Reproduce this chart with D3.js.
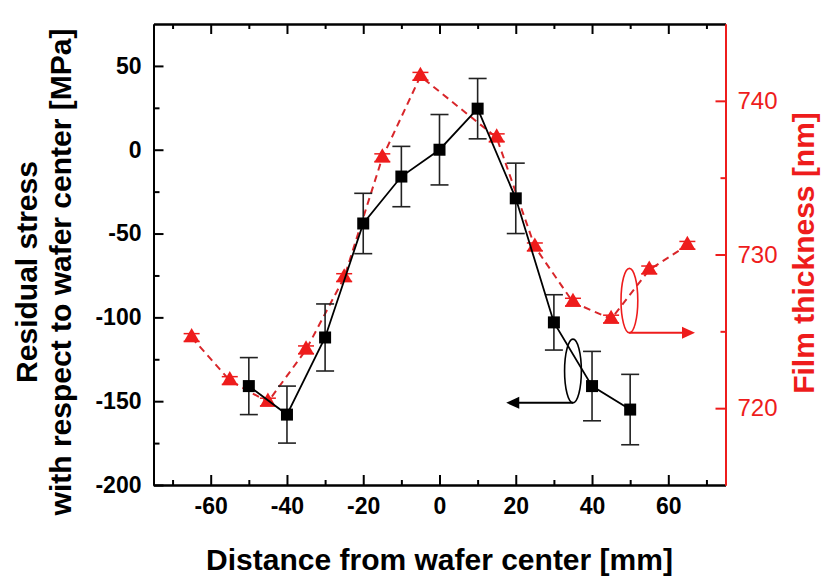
<!DOCTYPE html>
<html><head><meta charset="utf-8">
<script src="https://cdn.jsdelivr.net/npm/d3@7"></script>
<style>body{margin:0;background:#fff} svg{display:block;font-family:"Liberation Sans",Arial,sans-serif}</style>
</head><body><svg id="c" width="821" height="577"></svg>
<script>
// ---- data ----
const stressX   = [-50, -40, -30, -20, -10, 0, 10, 20, 30, 40, 50];
const stressY   = [-141, -158, -112, -44, -16, 0, 24.5, -29, -103, -141, -155];
const stressErr = [17, 17, 20, 18, 18, 21, 18, 21, 16.5, 20.7, 21];
const thickX    = [-65, -55, -45, -35, -25, -15, -5, 15, 25, 35, 45, 55, 65];
const thickY    = [724.6, 721.8, 720.4, 723.8, 728.5, 736.3, 741.6, 737.6, 730.5, 726.9, 725.8, 729.0, 730.6];
const thickErr  = [0.25, 0.25, 0.25, 0.25, 0.25, 0.25, 0.25, 0.25, 0.25, 0.25, 0.25, 0.25, 0.25];
const xTicks      = [-60, -40, -20, 0, 20, 40, 60];
const xMinor      = [-70, -50, -30, -10, 10, 30, 50, 70];
const yLeftTicks  = [-200, -150, -100, -50, 0, 50];
const yLeftMinor  = [-175, -125, -75, -25, 25];
const yRightTicks = [720, 730, 740];
const yRightMinor = [725, 735];
// annotation anchors (data units)
const stressEllipse = {x: 35, y: -132, rx: 2.2, ry: 19};
const stressArrowEnd = 17.5;
const thickEllipse = {x: 49.8, y: 727.0, rx: 2.2, ry: 2.1};
const thickArrowEnd = 67;

const svg = d3.select("#c");
const L = 153.5, R = 725.5, T = 24, B = 485;
const x = d3.scaleLinear().domain([-75, 75]).range([L, R]);
const yL = d3.scaleLinear().domain([-200, 75]).range([B, T]);
const yR = d3.scaleLinear().domain([715, 745]).range([B, T]);
const red = "#ee1c1c";
const fmt = d => String(d);

function styleAxis(g, color, bold, fs) {
  g.select(".domain").attr("stroke", color).attr("stroke-width", 2);
  g.selectAll(".tick line").attr("stroke", color).attr("stroke-width", 2);
  g.selectAll(".tick text").attr("fill", color).style("font-size", fs + "px")
    .style("font-weight", bold ? "bold" : "normal").style("font-family", '"Liberation Sans", Arial, sans-serif');
}

// bottom
const gB = svg.append("g").attr("transform", `translate(0,${B})`)
  .call(d3.axisBottom(x).tickValues(xTicks).tickSizeInner(-10).tickSizeOuter(0).tickPadding(13).tickFormat(fmt));
styleAxis(gB, "#000", true, 23);
const gBm = svg.append("g").attr("transform", `translate(0,${B})`)
  .call(d3.axisBottom(x).tickValues(xMinor).tickSizeInner(-5).tickSizeOuter(0).tickFormat(""));
styleAxis(gBm, "#000", true, 23);
// top
const gT = svg.append("g").attr("transform", `translate(0,${T})`)
  .call(d3.axisTop(x).tickValues(xTicks).tickSizeInner(-10).tickSizeOuter(0).tickFormat(""));
styleAxis(gT, "#000", true, 23);
const gTm = svg.append("g").attr("transform", `translate(0,${T})`)
  .call(d3.axisTop(x).tickValues(xMinor).tickSizeInner(-5).tickSizeOuter(0).tickFormat(""));
styleAxis(gTm, "#000", true, 23);
// left
const gL = svg.append("g").attr("transform", `translate(${L},0)`)
  .call(d3.axisLeft(yL).tickValues(yLeftTicks).tickSizeInner(-10).tickSizeOuter(0).tickPadding(12).tickFormat(fmt));
styleAxis(gL, "#000", true, 23);
const gLm = svg.append("g").attr("transform", `translate(${L},0)`)
  .call(d3.axisLeft(yL).tickValues(yLeftMinor).tickSizeInner(-6).tickSizeOuter(0).tickFormat(""));
styleAxis(gLm, "#000", true, 23);
// right
const gR = svg.append("g").attr("transform", `translate(${R},0)`)
  .call(d3.axisRight(yR).tickValues(yRightTicks).tickSizeInner(-10).tickSizeOuter(0).tickPadding(12).tickFormat(fmt));
styleAxis(gR, red, false, 24);
const gRm = svg.append("g").attr("transform", `translate(${R},0)`)
  .call(d3.axisRight(yR).tickValues(yRightMinor).tickSizeInner(-5).tickSizeOuter(0).tickFormat(""));
styleAxis(gRm, red, false, 24);

// titles
const tf = '"Liberation Sans", Arial, sans-serif';
svg.append("text").attr("x", (L + R) / 2).attr("y", 570).attr("text-anchor", "middle")
  .style("font-family", tf).style("font-weight", "bold").style("font-size", "30px").text("Distance from wafer center [mm]");
svg.append("text").attr("transform", "translate(37,272) rotate(-90)").attr("text-anchor", "middle")
  .style("font-family", tf).style("font-weight", "bold").style("font-size", "30px").text("Residual stress");
svg.append("text").attr("transform", "translate(71,272) rotate(-90)").attr("text-anchor", "middle")
  .style("font-family", tf).style("font-weight", "bold").style("font-size", "30px").text("with respect to wafer center [MPa]");
svg.append("text").attr("transform", "translate(814,253) rotate(-90)").attr("text-anchor", "middle").attr("fill", red)
  .style("font-family", tf).style("font-weight", "bold").style("font-size", "30px").text("Film thickness [nm]");

// thickness series
const tData = thickX.map((d, i) => ({x: d, y: thickY[i], e: thickErr[i]}));
svg.append("path").datum(tData).attr("fill", "none").attr("stroke", "#d8262a").attr("stroke-width", 2)
  .attr("stroke-dasharray", "7,5")
  .attr("d", d3.line().x(d => x(d.x)).y(d => yR(d.y)));
const te = svg.append("g").attr("stroke", red).attr("stroke-width", 1.5);
tData.forEach(d => {
  te.append("line").attr("x1", x(d.x)).attr("x2", x(d.x)).attr("y1", yR(d.y - d.e)).attr("y2", yR(d.y + d.e));
  [d.y - d.e, d.y + d.e].forEach(v => te.append("line").attr("x1", x(d.x) - 8).attr("x2", x(d.x) + 8).attr("y1", yR(v)).attr("y2", yR(v)));
});
svg.append("g").selectAll("path").data(tData).join("path")
  .attr("transform", d => `translate(${x(d.x)},${yR(d.y)})`)
  .attr("d", d3.symbol(d3.symbolTriangle, 115)).attr("fill", red);

// stress series
const sData = stressX.map((d, i) => ({x: d, y: stressY[i], e: stressErr[i]}));
const se = svg.append("g").attr("stroke", "#222").attr("stroke-width", 1.6);
sData.forEach(d => {
  se.append("line").attr("x1", x(d.x)).attr("x2", x(d.x)).attr("y1", yL(d.y - d.e)).attr("y2", yL(d.y + d.e));
  [d.y - d.e, d.y + d.e].forEach(v => se.append("line").attr("x1", x(d.x) - 9).attr("x2", x(d.x) + 9).attr("y1", yL(v)).attr("y2", yL(v)));
});
svg.append("path").datum(sData).attr("fill", "none").attr("stroke", "#000").attr("stroke-width", 1.8)
  .attr("d", d3.line().x(d => x(d.x)).y(d => yL(d.y)));
svg.append("g").selectAll("rect").data(sData).join("rect")
  .attr("x", d => x(d.x) - 6).attr("y", d => yL(d.y) - 6).attr("width", 12).attr("height", 12).attr("fill", "#000");

// annotations
function arrowAnn(e, ys, endX, color, dir) {
  const cx = x(e.x), cy = ys(e.y), rx = x(e.x + e.rx) - x(e.x), ry = ys(e.y) - ys(e.y + e.ry);
  svg.append("ellipse").attr("cx", cx).attr("cy", cy).attr("rx", rx).attr("ry", ry)
    .attr("fill", "none").attr("stroke", color).attr("stroke-width", 1.6);
  const by = cy + ry, ex = x(endX);
  svg.append("line").attr("x1", cx).attr("x2", ex - dir * 10).attr("y1", by).attr("y2", by)
    .attr("stroke", color).attr("stroke-width", 2);
  svg.append("path").attr("d", `M${ex},${by} L${ex - dir * 13},${by - 6} L${ex - dir * 13},${by + 6} Z`).attr("fill", color);
}
arrowAnn(stressEllipse, yL, stressArrowEnd, "#000", -1);
arrowAnn(thickEllipse, yR, thickArrowEnd, red, 1);
</script></body></html>
